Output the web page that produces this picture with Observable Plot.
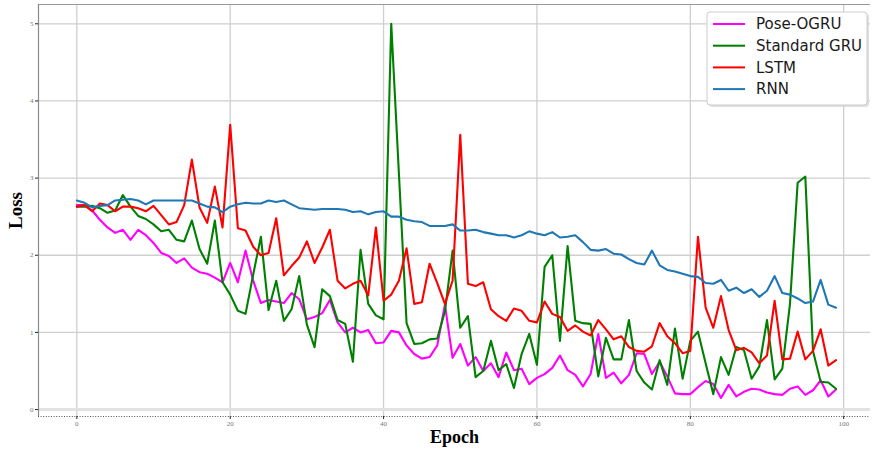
<!DOCTYPE html>
<html><head><meta charset="utf-8">
<script src="https://cdn.jsdelivr.net/npm/d3@7"></script>
<script src="https://cdn.jsdelivr.net/npm/@observablehq/plot@0.6"></script>
<style>
body{margin:0;background:#fff;overflow:hidden}
#chart{position:relative;width:872px;height:451px}
</style>
</head><body><div id="chart"></div>
<script>
const epochs = d3.range(100);
const seriesNames = ["Pose-OGRU", "Standard GRU", "LSTM", "RNN"];
const seriesColors = ["#ff00ff", "#008000", "#ff0000", "#1f77b4"];
const xTicks = [0, 20, 40, 60, 80, 100];
const yTicks = [0, 1, 2, 3, 4, 5];

const poseOGRU = [2.65,2.65,2.58,2.46,2.36,2.29,2.33,2.20,2.33,2.26,
2.16,2.03,1.99,1.90,1.96,1.84,1.78,1.76,1.71,1.65,
1.90,1.65,2.06,1.67,1.38,1.42,1.40,1.38,1.51,1.43,
1.17,1.20,1.25,1.42,1.13,1.00,1.06,1.00,1.03,0.86,
0.87,1.02,1.00,0.83,0.72,0.66,0.68,0.83,1.36,0.67,
0.85,0.57,0.68,0.50,0.60,0.42,0.74,0.51,0.53,0.33,
0.41,0.46,0.54,0.70,0.51,0.45,0.30,0.46,0.98,0.41,
0.48,0.34,0.45,0.73,0.72,0.46,0.62,0.43,0.21,0.20,
0.20,0.29,0.37,0.33,0.15,0.32,0.17,0.23,0.27,0.26,
0.22,0.20,0.19,0.27,0.30,0.19,0.25,0.38,0.17,0.26];

const standardGRU = [2.63,2.63,2.64,2.61,2.55,2.58,2.78,2.63,2.51,2.47,
2.40,2.31,2.33,2.20,2.18,2.45,2.08,1.89,2.45,1.65,
1.49,1.28,1.24,1.75,2.24,1.29,1.67,1.15,1.30,1.73,
1.10,0.81,1.56,1.47,1.16,1.11,0.62,2.07,1.37,1.22,
1.17,5.00,3.06,1.12,0.85,0.86,0.91,0.92,1.27,2.06,
1.06,1.21,0.42,0.50,0.89,0.51,0.59,0.28,0.72,0.98,
0.58,1.85,2.00,0.89,2.12,1.15,1.12,1.11,0.43,0.93,
0.65,0.65,1.16,0.50,0.35,0.26,0.64,0.32,1.05,0.40,
0.89,1.01,0.60,0.20,0.68,0.45,0.81,0.77,0.40,0.56,
1.16,0.39,0.53,1.37,2.94,3.02,0.76,0.36,0.35,0.27];

const lstm = [2.63,2.65,2.57,2.67,2.65,2.57,2.63,2.63,2.61,2.57,
2.64,2.52,2.40,2.43,2.65,3.24,2.62,2.42,2.89,2.36,
3.69,2.35,2.32,2.11,2.00,2.03,2.48,1.74,1.86,1.97,
2.18,1.90,2.10,2.33,1.67,1.57,1.63,1.67,1.48,2.36,
1.41,1.49,1.67,2.09,1.37,1.39,1.89,1.64,1.37,1.67,
3.56,1.63,1.60,1.65,1.30,1.21,1.15,1.31,1.28,1.15,
1.13,1.40,1.24,1.20,1.02,1.09,1.01,0.96,1.16,1.04,
0.91,0.95,0.81,0.76,0.75,0.82,1.12,0.95,0.86,0.73,
0.76,2.24,1.32,1.06,1.47,1.03,0.77,0.80,0.74,0.60,
0.70,1.41,0.65,0.66,1.01,0.65,0.76,1.04,0.57,0.64];

const rnn = [2.71,2.68,2.62,2.64,2.65,2.71,2.72,2.73,2.71,2.66,
2.71,2.71,2.71,2.71,2.71,2.71,2.67,2.63,2.62,2.56,
2.63,2.66,2.68,2.67,2.67,2.71,2.69,2.71,2.66,2.61,
2.60,2.59,2.60,2.60,2.60,2.59,2.56,2.57,2.53,2.56,
2.57,2.50,2.50,2.46,2.44,2.43,2.38,2.38,2.38,2.40,
2.32,2.32,2.33,2.30,2.28,2.26,2.26,2.23,2.26,2.31,
2.28,2.26,2.30,2.23,2.24,2.26,2.17,2.07,2.06,2.08,
2.02,2.01,1.95,1.90,1.88,2.06,1.87,1.81,1.79,1.76,
1.73,1.72,1.64,1.63,1.68,1.54,1.58,1.51,1.56,1.46,
1.54,1.73,1.51,1.49,1.44,1.38,1.40,1.68,1.36,1.32];

const allSeries = [poseOGRU, standardGRU, lstm, rnn];
const rows = [];
allSeries.forEach((vals, k) => vals.forEach((v, i) => rows.push({epoch: epochs[i], loss: v, series: seriesNames[k]})));

const xDomain = [-5, 103.5];
const yDomain = [-0.09, 5.25];

const plot = Plot.plot({
  width: 872, height: 451,
  marginLeft: 38, marginRight: 2, marginTop: 4, marginBottom: 35,
  x: {domain: xDomain},
  y: {domain: yDomain},
  color: {domain: seriesNames, range: seriesColors},
  style: {background: "#fff", fontFamily: "DejaVu Sans"},
  marks: [
    Plot.gridX(xTicks, {stroke: "#cfcfcf", strokeOpacity: 1, strokeWidth: 1.3}),
    Plot.gridY(yTicks, {stroke: "#cfcfcf", strokeOpacity: 1, strokeWidth: 1.3}),
    Plot.ruleY([0], {stroke: "#e2e2e2", strokeWidth: 3}),
    Plot.lineY(rows, {x: "epoch", y: "loss", stroke: "series", z: "series", strokeWidth: 2.1}),
    Plot.ruleY([yDomain[1]], {stroke: "#9a9a9a", strokeWidth: 1.2}),
    Plot.ruleX([xDomain[0]], {stroke: "#8a8a8a", strokeWidth: 1.2}),
    Plot.ruleY([yDomain[0]], {stroke: "#555", strokeWidth: 1, strokeDasharray: "1,1.6"}),
    Plot.axisX(xTicks, {tickSize: 3, tickPadding: 2, fontSize: 7, tickFormat: "d", fill: "#777", stroke: "#222", label: null, fontFamily: "Liberation Serif"}),
    Plot.axisY(yTicks, {tickSize: 3, tickPadding: 2, fontSize: 7, tickFormat: "d", fill: "#777", stroke: "#222", label: null, fontFamily: "Liberation Serif"}),
    Plot.text(["Epoch"], {text: d => d, frameAnchor: "bottom", dy: 26, fontSize: 18, fontWeight: "bold", fontFamily: "Liberation Serif", fill: "#000"}),
    Plot.text(["Loss"], {text: d => d, frameAnchor: "left", textAnchor: "middle", rotate: -90, dx: -23, fontSize: 19, fontWeight: "bold", fontFamily: "Liberation Serif", fill: "#000"})
  ]
});
document.getElementById("chart").appendChild(plot);

// legend inside the plot (upper right)
const svg = d3.select(plot);
const lg = svg.append("g").attr("font-family", "DejaVu Sans").attr("font-size", 15).attr("text-anchor", "start");
lg.append("rect").attr("x", 709).attr("y", 14).attr("width", 160).attr("height", 93).attr("rx", 3).attr("fill", "#d8d8d8").attr("opacity", 0.8);
lg.append("rect").attr("x", 707).attr("y", 12).attr("width", 160).attr("height", 93).attr("rx", 3).attr("fill", "#fff").attr("stroke", "#cccccc");
seriesNames.forEach((name, k) => {
  const cy = 24 + 21.7 * k;
  lg.append("line").attr("x1", 713).attr("x2", 745).attr("y1", cy).attr("y2", cy).attr("stroke", seriesColors[k]).attr("stroke-width", 2);
  lg.append("text").attr("x", 756).attr("y", cy).attr("dy", "0.35em").attr("text-anchor", "start").attr("fill", "#1a1a1a").text(name);
});
</script>
</body></html>
